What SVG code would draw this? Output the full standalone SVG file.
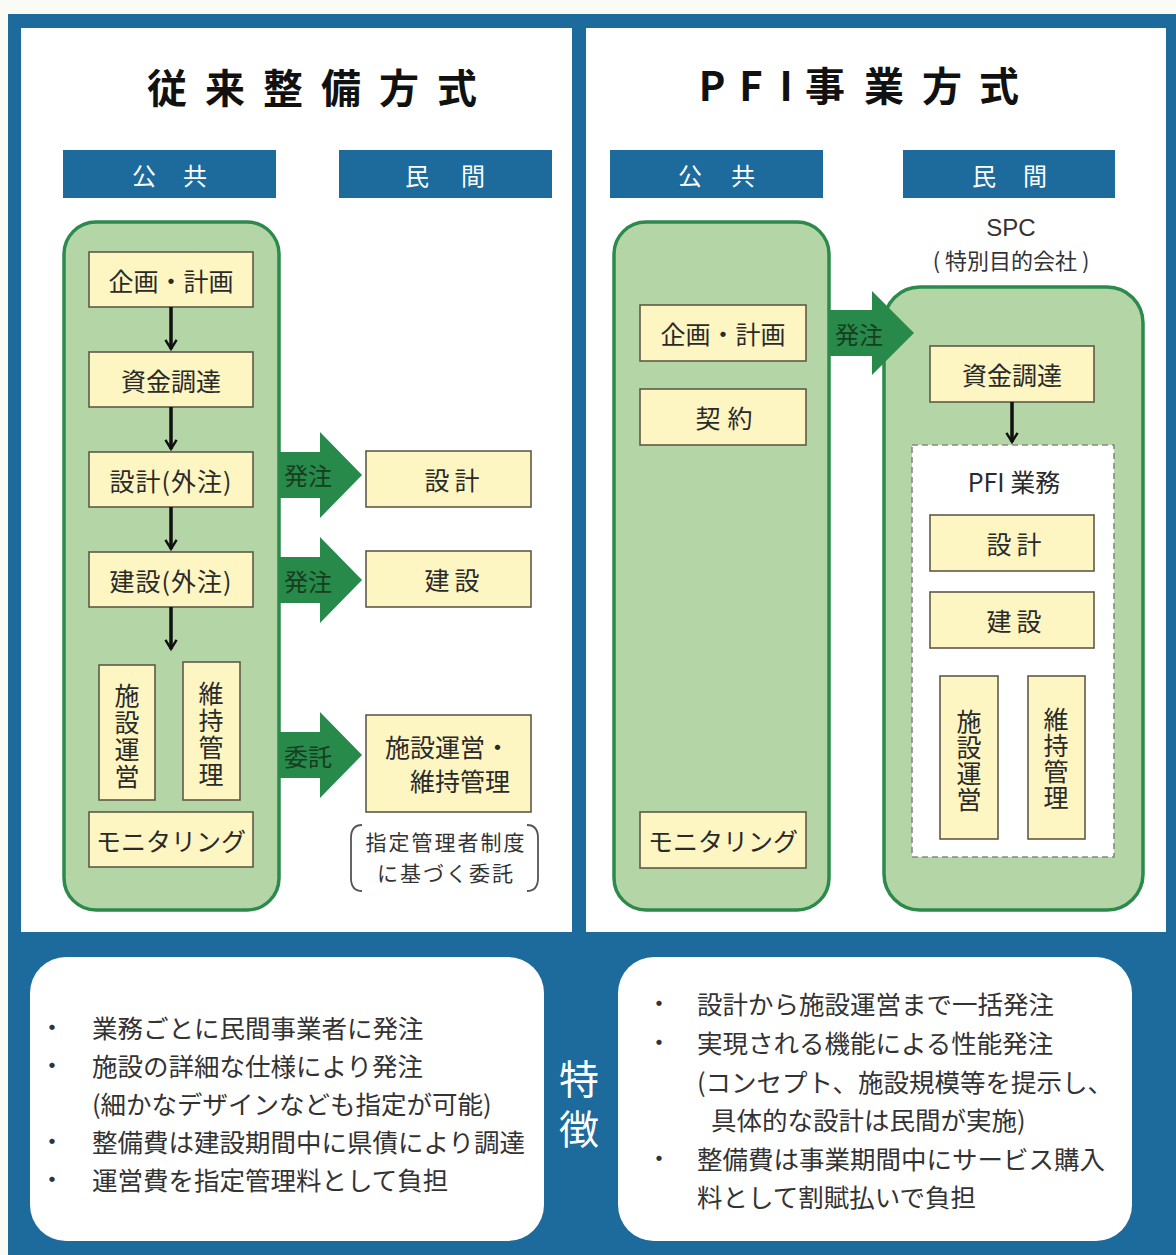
<svg xmlns="http://www.w3.org/2000/svg" width="1176" height="1255" viewBox="0 0 1176 1255">
<style>
text{font-family:"Noto Sans CJK JP","Noto Sans CJK SC",sans-serif;}
.box{fill:#fdf5c2;stroke:#5e5b48;stroke-width:1.6}
.cont{fill:#b4d6a6;stroke:#2b8a4c;stroke-width:3.5}
.hdr{fill:#1c6b9c}
.lbl{font-size:25px;fill:#2a2a2a;text-anchor:middle;dominant-baseline:central}
.hdrt{font-size:24px;fill:#ffffff;text-anchor:middle;dominant-baseline:central}
.title{font-size:40px;font-weight:bold;fill:#111;text-anchor:middle;dominant-baseline:central}
.garrow{fill:#27894a}
.gtxt{font-size:24px;fill:#173d20;dominant-baseline:central}
.body{font-size:25.5px;fill:#333;dominant-baseline:central}
.bul{font-size:25px;fill:#333;text-anchor:middle;dominant-baseline:central}
.conn{stroke:#111;stroke-width:3.5;fill:none}
.small{font-size:21px;fill:#333;text-anchor:middle;dominant-baseline:central}
</style>
<defs>
<marker id="ah" viewBox="0 0 20 20" refX="16" refY="10" markerWidth="14" markerHeight="14" markerUnits="userSpaceOnUse" orient="auto">
<path d="M3,2 L16,10 L3,18" fill="none" stroke="#111" stroke-width="3.5"/>
</marker>
</defs>

<!-- background -->
<rect x="0" y="0" width="1176" height="1255" fill="#fbfbf6"/>
<rect x="8" y="14" width="1168" height="1241" fill="#1c6b9c"/>
<rect x="21" y="28" width="551" height="904" fill="#ffffff"/>
<rect x="586" y="28" width="580" height="904" fill="#ffffff"/>

<!-- titles -->
<g id="title-left">
<text class="title" x="167 225 283 341 399 457" y="86">従来整備方式</text>
</g>
<g id="title-right">
<text class="title" x="712 751 786 825 884 942 999" y="84">PFI事業方式</text>
</g>

<!-- headers -->
<g id="hdr-left-public"><rect class="hdr" x="63" y="150" width="213" height="48"/><text class="hdrt" x="144 195" y="174">公共</text></g>
<g id="hdr-left-private"><rect class="hdr" x="339" y="150" width="213" height="48"/><text class="hdrt" x="417 473" y="174">民間</text></g>
<g id="hdr-right-public"><rect class="hdr" x="610" y="150" width="213" height="48"/><text class="hdrt" x="690 743" y="174">公共</text></g>
<g id="hdr-right-private"><rect class="hdr" x="903" y="150" width="212" height="48"/><text class="hdrt" x="984 1035" y="174">民間</text></g>

<!-- left panel -->
<g id="left-public-container"><rect class="cont" x="64" y="222" width="215" height="688" rx="32"/></g>
<g id="l-kikaku"><rect class="box" x="89" y="252" width="164" height="55"/><text class="lbl" x="171" y="280">企画・計画</text></g>
<g id="l-shikin"><rect class="box" x="89" y="352" width="164" height="55"/><text class="lbl" x="171" y="380">資金調達</text></g>
<g id="l-sekkei"><rect class="box" x="89" y="452" width="164" height="55"/><text class="lbl" x="171" y="480" letter-spacing="1">設計(外注)</text></g>
<g id="l-kensetsu"><rect class="box" x="89" y="552" width="164" height="55"/><text class="lbl" x="171" y="580" letter-spacing="1">建設(外注)</text></g>
<g id="l-unei"><rect class="box" x="99" y="665" width="56" height="135"/><text class="lbl" x="127 127 127 127" y="694 721 748 775">施設運営</text></g>
<g id="l-iji"><rect class="box" x="183" y="662" width="57" height="138"/><text class="lbl" x="211 211 211 211" y="692 719 746 773">維持管理</text></g>
<g id="l-monitor"><rect class="box" x="89" y="812" width="164" height="55"/><text class="lbl" x="171" y="840">モニタリング</text></g>

<g id="l-p-sekkei"><rect class="box" x="366" y="451" width="165" height="56"/><text class="lbl" x="437 467" y="479">設計</text></g>
<g id="l-p-kensetsu"><rect class="box" x="366" y="551" width="165" height="56"/><text class="lbl" x="437 467" y="579">建設</text></g>
<g id="l-p-unei"><rect class="box" x="366" y="715" width="165" height="97"/><text class="lbl" style="text-anchor:start"><tspan x="385" y="746">施設運営・</tspan><tspan x="410" y="780">維持管理</tspan></text></g>
<g id="l-note">
<path d="M362,825 Q351,825 351,838 L351,878 Q351,891 362,891" fill="none" stroke="#555" stroke-width="1.8"/>
<path d="M527,825 Q538,825 538,838 L538,878 Q538,891 527,891" fill="none" stroke="#555" stroke-width="1.8"/>
<text class="small" letter-spacing="2"><tspan x="446" y="841">指定管理者制度</tspan><tspan x="446" y="872">に基づく委託</tspan></text>
</g>

<!-- right panel -->
<g id="right-public-container"><rect class="cont" x="614" y="222" width="215" height="688" rx="32"/></g>
<g id="r-kikaku"><rect class="box" x="640" y="305" width="166" height="56"/><text class="lbl" x="723" y="333">企画・計画</text></g>
<g id="r-keiyaku"><rect class="box" x="640" y="389" width="166" height="56"/><text class="lbl" x="708 740" y="417">契約</text></g>
<g id="r-monitor"><rect class="box" x="640" y="812" width="166" height="56"/><text class="lbl" x="723" y="840">モニタリング</text></g>

<g id="spc-label">
<text x="1011" y="227" style="font-family:'Liberation Sans','Noto Sans',sans-serif;font-size:24px;fill:#333;text-anchor:middle;dominant-baseline:central">SPC</text>
<text class="small" x="1011" y="259" style="font-size:22px">( 特別目的会社 )</text>
</g>
<g id="spc-container"><rect class="cont" x="884" y="287" width="259" height="623" rx="36"/></g>
<g id="r-shikin"><rect class="box" x="930" y="346" width="164" height="56"/><text class="lbl" x="1012" y="374">資金調達</text></g>
<g id="pfi-gyomu"><rect x="912" y="445" width="202" height="412" fill="#ffffff" stroke="#888" stroke-width="1.6" stroke-dasharray="6,4"/><text class="lbl" x="1014" y="481">PFI 業務</text></g>
<g id="r-sekkei"><rect class="box" x="930" y="515" width="164" height="56"/><text class="lbl" x="999 1029" y="543">設計</text></g>
<g id="r-kensetsu"><rect class="box" x="930" y="592" width="164" height="56"/><text class="lbl" x="999 1029" y="620">建設</text></g>
<g id="r-unei"><rect class="box" x="940" y="676" width="58" height="163"/><text class="lbl" x="969 969 969 969" y="720 746 772 798">施設運営</text></g>
<g id="r-iji"><rect class="box" x="1028" y="676" width="57" height="163"/><text class="lbl" x="1056 1056 1056 1056" y="718 744 770 796">維持管理</text></g>

<!-- connectors -->
<g id="connectors">
<path class="conn" d="M171,307 V349" marker-end="url(#ah)"/>
<path class="conn" d="M171,407 V449" marker-end="url(#ah)"/>
<path class="conn" d="M171,507 V549" marker-end="url(#ah)"/>
<path class="conn" d="M171,607 V649" marker-end="url(#ah)"/>
<path class="conn" d="M1012,402 V442" marker-end="url(#ah)"/>
<path class="garrow" d="M279,452 H320 V432 L362,475 L320,518 V498 H279 Z"/>
<text class="gtxt" x="284" y="474">発注</text>
<path class="garrow" d="M279,557 H320 V537 L362,580 L320,623 V603 H279 Z"/>
<text class="gtxt" x="284" y="580">発注</text>
<path class="garrow" d="M279,732 H320 V712 L362,755 L320,798 V778 H279 Z"/>
<text class="gtxt" x="284" y="755">委託</text>
<path class="garrow" d="M830,310 H872 V291 L914,333 L872,375 V356 H830 Z"/>
<text class="gtxt" x="835" y="333">発注</text>
</g>

<!-- bottom features -->
<g id="feature-left">
<rect x="30" y="957" width="514" height="284" rx="36" fill="#ffffff"/>
<text class="bul" x="52" y="1026">・</text><text class="body" x="92" y="1026">業務ごとに民間事業者に発注</text>
<text class="bul" x="52" y="1064">・</text><text class="body" x="92" y="1064">施設の詳細な仕様により発注</text>
<text class="body" x="92" y="1102">(細かなデザインなども指定が可能)</text>
<text class="bul" x="52" y="1140">・</text><text class="body" x="92" y="1140">整備費は建設期間中に県債により調達</text>
<text class="bul" x="52" y="1178">・</text><text class="body" x="92" y="1178">運営費を指定管理料として負担</text>
</g>
<g id="feature-label">
<text x="579 579" y="1077 1127" style="font-size:40px;fill:#ffffff;text-anchor:middle;dominant-baseline:central">特徴</text>
</g>
<g id="feature-right">
<rect x="618" y="957" width="514" height="284" rx="36" fill="#ffffff"/>
<text class="bul" x="659" y="1002">・</text><text class="body" x="697" y="1002">設計から施設運営まで一括発注</text>
<text class="bul" x="659" y="1041">・</text><text class="body" x="697" y="1041">実現される機能による性能発注</text>
<text class="body" x="697" y="1080">(コンセプト、施設規模等を提示し、</text>
<text class="body" x="711" y="1118">具体的な設計は民間が実施)</text>
<text class="bul" x="659" y="1157">・</text><text class="body" x="697" y="1157">整備費は事業期間中にサービス購入</text>
<text class="body" x="697" y="1195">料として割賦払いで負担</text>
</g>
</svg>
